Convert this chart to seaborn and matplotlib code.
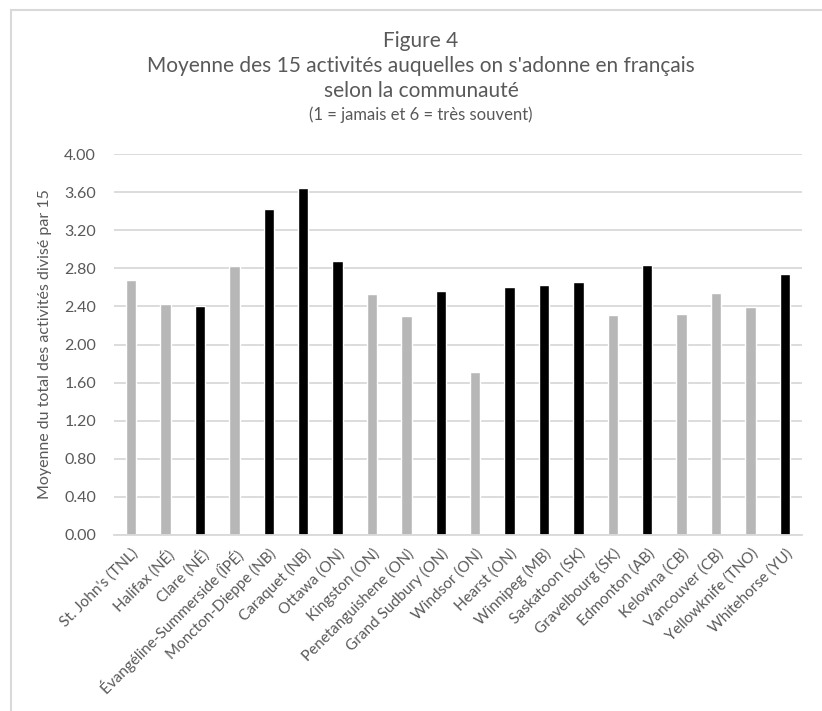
import matplotlib
matplotlib.use("Agg")
import matplotlib.pyplot as plt
from matplotlib.patches import Rectangle
import seaborn as sns
import pandas as pd

communities = [
    "St. John's (TNL)", "Halifax (NÉ)", "Clare (NÉ)", "Évangéline-Summerside (ÎPÉ)",
    "Moncton-Dieppe (NB)", "Caraquet (NB)", "Ottawa (ON)", "Kingston (ON)",
    "Penetanguishene (ON)", "Grand Sudbury (ON)", "Windsor (ON)", "Hearst (ON)",
    "Winnipeg (MB)", "Saskatoon (SK)", "Gravelbourg (SK)", "Edmonton (AB)",
    "Kelowna (CB)", "Vancouver (CB)", "Yellowknife (TNO)", "Whitehorse (YU)",
]
means = [2.68, 2.42, 2.40, 2.82, 3.42, 3.64, 2.88, 2.53, 2.30, 2.56,
         1.71, 2.60, 2.62, 2.66, 2.31, 2.83, 2.32, 2.54, 2.39, 2.74]
# majority (black) vs minority (grey) communities
majority = [False, False, True, False, True, True, True, False, False, True,
            False, True, True, True, False, True, False, False, False, True]
y_ticks = [0.0, 0.4, 0.8, 1.2, 1.6, 2.0, 2.4, 2.8, 3.2, 3.6, 4.0]

GREY = "#b7b7b7"
BLACK = "#000000"
TEXT = "#595959"
GRID = "#d9d9d9"

sns.set_theme(style="white")
plt.rcParams["font.family"] = ["Lato", "DejaVu Sans"]

df = pd.DataFrame({"communaute": communities, "moyenne": means})
palette = {c: (BLACK if m else GREY) for c, m in zip(communities, majority)}

fig = plt.figure(figsize=(8.22, 7.11), dpi=100)
ax = fig.add_axes([114 / 822, 1 - 535 / 711, 688 / 822, 381 / 711])

sns.barplot(data=df, x="communaute", y="moyenne", hue="communaute",
            palette=palette, width=0.3, legend=False, ax=ax, saturation=1)

ax.set_ylim(0, 4.0)
ax.set_xlim(-0.5, len(communities) - 0.5)
ax.set_yticks(y_ticks)
ax.set_yticklabels([f"{v:.2f}" for v in y_ticks])
ax.yaxis.grid(True, color=GRID, linewidth=1.3)
ax.set_axisbelow(True)
for side in ["top", "right", "left"]:
    ax.spines[side].set_visible(False)
ax.spines["bottom"].set_color(GRID)
ax.spines["bottom"].set_linewidth(1.3)
ax.tick_params(axis="both", length=0, colors=TEXT, labelsize=11.5)
ax.tick_params(axis="x", labelsize=11)
ax.tick_params(axis="y", pad=13)
ax.tick_params(axis="x", pad=8)
plt.setp(ax.get_xticklabels(), rotation=45, ha="right", rotation_mode="anchor")
ax.set_xlabel("")
ax.set_ylabel("Moyenne du total des activités divisé par 15", color=TEXT,
              fontsize=11.5, labelpad=9)

cx = 421 / 822
fig.text(cx, 1 - 41 / 711, "Figure 4", ha="center", va="center", color=TEXT, fontsize=15)
fig.text(cx, 1 - 66 / 711, "Moyenne des 15 activités auquelles on s'adonne en français",
         ha="center", va="center", color=TEXT, fontsize=15)
fig.text(cx, 1 - 91 / 711, "selon la communauté", ha="center", va="center",
         color=TEXT, fontsize=15)
fig.text(cx, 1 - 115 / 711, "(1 = jamais et 6 = très souvent)", ha="center",
         va="center", color=TEXT, fontsize=12)

# chart frame
fig.patches.append(Rectangle((11 / 822, -0.1), 1.2, 1 - 10 / 711 + 0.1,
                             transform=fig.transFigure, fill=False,
                             edgecolor=GRID, linewidth=1.5))

fig.savefig("out.png", dpi=100, facecolor="white")
